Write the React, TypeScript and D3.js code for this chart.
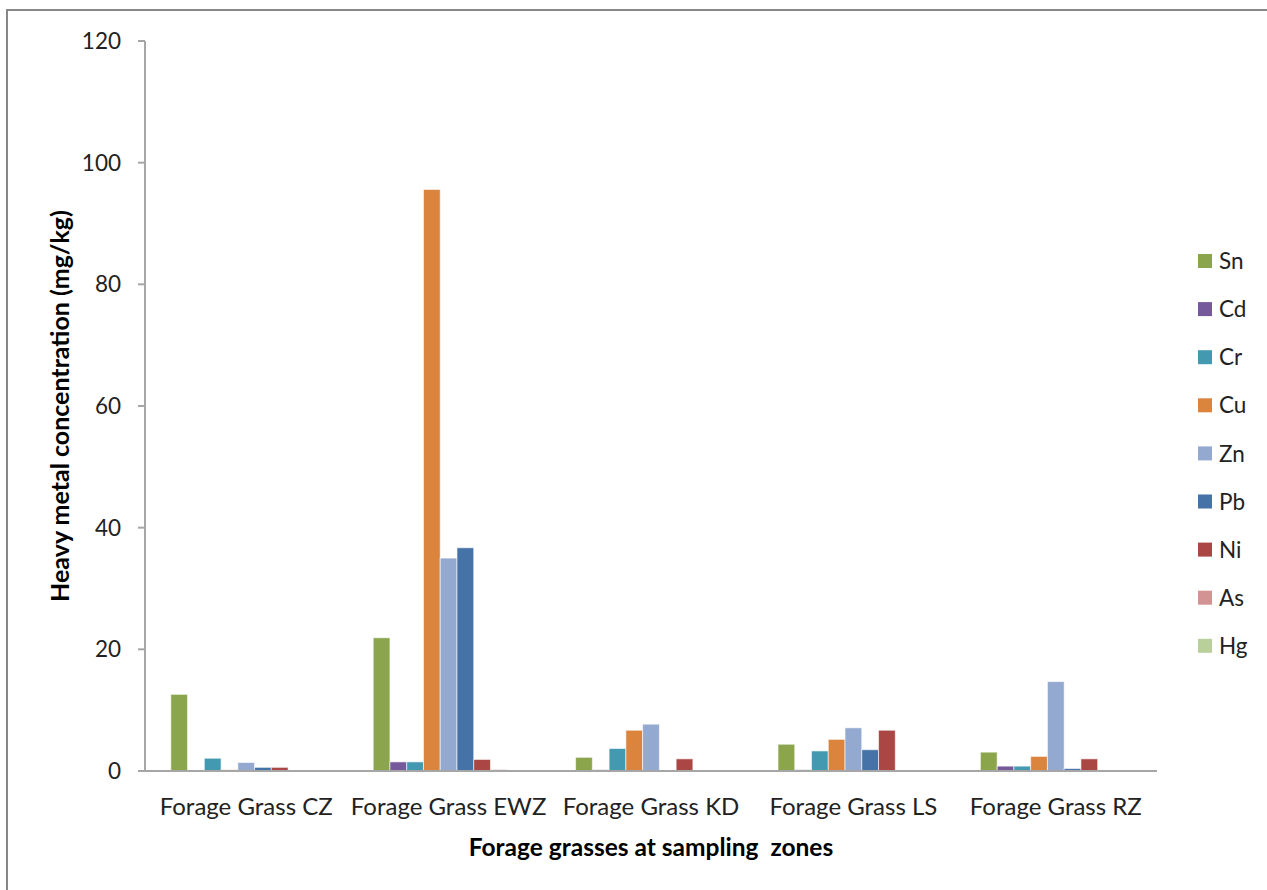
import * as d3 from 'd3'

const categories = ['Forage Grass CZ', 'Forage Grass EWZ', 'Forage Grass KD', 'Forage Grass LS', 'Forage Grass RZ']
const metals = ['Sn', 'Cd', 'Cr', 'Cu', 'Zn', 'Pb', 'Ni', 'As', 'Hg']
const colors = ['#8BA54D', '#76599A', '#4299B0', '#DB843D', '#93A9D0', '#4572A7', '#AA4643', '#D29392', '#B9D09A']

// values per zone, in metal order
const sn = [12.6, 21.9, 2.25, 4.4, 3.1]
const cd = [0, 1.5, 0.2, 0.2, 0.8]
const cr = [2.1, 1.5, 3.7, 3.3, 0.8]
const cu = [0.2, 95.6, 6.7, 5.2, 2.4]
const zn = [1.4, 35.0, 7.7, 7.1, 14.7]
const pb = [0.6, 36.7, 0, 3.5, 0.4]
const ni = [0.6, 1.9, 2.0, 6.7, 2.0]
const as = [0, 0.25, 0, 0, 0]
const hg = [0, 0, 0, 0, 0]
const series = [sn, cd, cr, cu, zn, pb, ni, as, hg]

const yTicks = [0, 20, 40, 60, 80, 100, 120]

const font = 'Lato, "Open Sans", sans-serif'

export default function App() {
  const left = 145
  const right = 1157
  const top = 41
  const bottom = 771

  const x0 = d3.scaleBand<string>().domain(categories).range([left, right])
  const gap = 25.8
  const x1 = d3.scaleBand<string>().domain(metals).range([gap, x0.bandwidth() - gap])
  const y = d3.scaleLinear().domain([0, 120]).range([bottom, top])

  return (
    <svg width={1267} height={890} style={{ position: 'absolute', left: 0, top: 0, background: '#fff' }}>
      <rect x={7} y={10} width={1275} height={900} fill="#fff" stroke="#878787" strokeWidth={2} />

      {/* y axis */}
      <line x1={left} x2={left} y1={top} y2={bottom} stroke="#a6a6a6" strokeWidth={2} />
      {yTicks.map((t) => (
        <g key={t}>
          <line x1={left - 7} x2={left} y1={y(t)} y2={y(t)} stroke="#a6a6a6" strokeWidth={2} />
          <text x={121} y={y(t)} dy="0.36em" textAnchor="end" fontFamily={font} fontSize={22.5} fill="#222">
            {t}
          </text>
        </g>
      ))}

      {/* bars */}
      {categories.map((c, ci) => (
        <g key={c} transform={`translate(${x0(c)},0)`}>
          {metals.map((m, mi) => {
            const v = series[mi][ci]
            if (!v) return null
            return (
              <rect
                key={m}
                x={x1(m)}
                y={y(v)}
                width={x1.bandwidth()}
                height={bottom - y(v)}
                fill={colors[mi]}
                stroke="#ffffff"
                strokeOpacity={0.6}
                strokeWidth={1}
              />
            )
          })}
        </g>
      ))}

      {/* x axis */}
      <line x1={left} x2={right} y1={bottom} y2={bottom} stroke="#a6a6a6" strokeWidth={2} />
      {categories.map((c) => (
        <text
          key={c}
          x={x0(c)! + x0.bandwidth() / 2}
          y={815}
          textAnchor="middle"
          fontFamily={font}
          fontSize={24}
          fill="#222"
        >
          {c}
        </text>
      ))}

      <text x={651} y={856} textAnchor="middle" fontFamily={font} fontSize={24.5} fontWeight="bold" fill="#000" style={{ whiteSpace: 'pre' }}>
        Forage grasses at sampling  zones
      </text>
      <text
        transform={`translate(69,${(top + bottom) / 2}) rotate(-90)`}
        textAnchor="middle"
        fontFamily={font}
        fontSize={25}
        fontWeight="bold"
        fill="#000"
      >
        Heavy metal concentration (mg/kg)
      </text>

      {/* legend */}
      {metals.map((m, i) => {
        const ly = 261 + i * 48.1
        return (
          <g key={m}>
            <rect x={1198} y={ly - 7} width={14} height={14} fill={colors[i]} />
            <text x={1219} y={ly} dy="0.36em" fontFamily={font} fontSize={22.5} fill="#222">
              {m}
            </text>
          </g>
        )
      })}
    </svg>
  )
}
